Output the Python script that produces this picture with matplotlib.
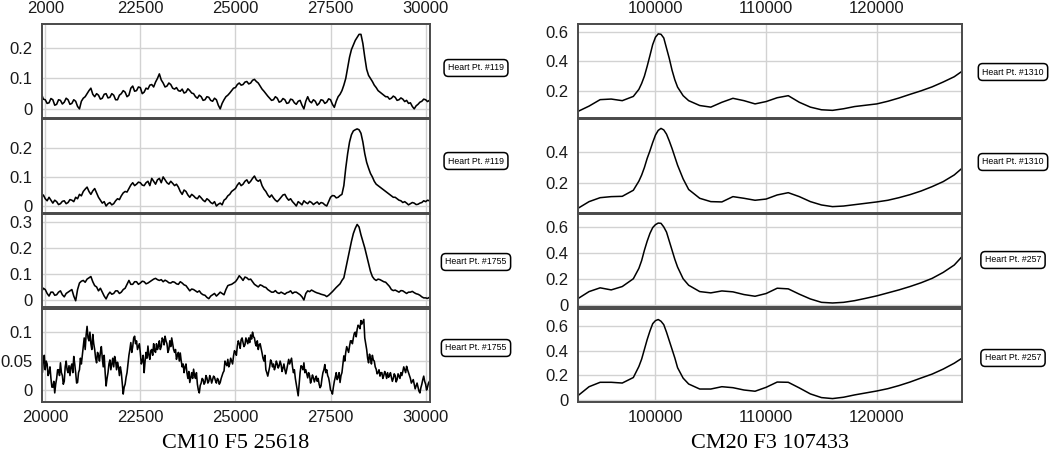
import numpy as np
import matplotlib
matplotlib.use("Agg")
import matplotlib.pyplot as plt

# ---------------- data ----------------
left_start = 19900
left_step = 50       # panels 1-3 sampling
left_step4 = 25      # panel 4 sampling

left_p1 = [0.05, 0.032, 0.03, 0.018, 0.02, 0.034, 0.03, 0.012, 0.015, 0.03,
           0.028, 0.016, 0.022, 0.035, 0.03, 0.015, 0.018, 0.03, 0.025, 0.008,
           0.0, 0.025, 0.035, 0.04, 0.05, 0.06, 0.068, 0.048, 0.04, 0.05,
           0.045, 0.032, 0.035, 0.048, 0.05, 0.036, 0.038, 0.05, 0.045, 0.03,
           0.03, 0.045, 0.05, 0.06, 0.055, 0.04, 0.045, 0.068, 0.075, 0.058,
           0.06, 0.072, 0.07, 0.05, 0.055, 0.068, 0.065, 0.078, 0.08, 0.072,
           0.088, 0.1, 0.115, 0.095, 0.085, 0.072, 0.075, 0.085, 0.08, 0.068,
           0.065, 0.07, 0.06, 0.058, 0.065, 0.052, 0.055, 0.066, 0.06, 0.052,
           0.05, 0.04, 0.035, 0.045, 0.04, 0.028, 0.03, 0.04, 0.038, 0.028,
           0.025, 0.035, 0.03, 0.012, 0.0, 0.018, 0.03, 0.04, 0.045, 0.052,
           0.06, 0.068, 0.07, 0.08, 0.085, 0.078, 0.08, 0.088, 0.09, 0.082,
           0.085, 0.094, 0.097, 0.09, 0.085, 0.075, 0.065, 0.058, 0.05, 0.042,
           0.035, 0.028, 0.03, 0.04, 0.035, 0.022, 0.025, 0.034, 0.03, 0.018,
           0.02, 0.032, 0.03, 0.02, 0.015, 0.025, 0.028, 0.012, 0.0, 0.025,
           0.04, 0.025, 0.02, 0.03, 0.025, 0.012, 0.018, 0.03, 0.028, 0.018,
           0.022, 0.033, 0.03, 0.015, 0.005, 0.025, 0.04, 0.048, 0.06, 0.078,
           0.1, 0.135, 0.17, 0.195, 0.21, 0.225, 0.235, 0.245, 0.245, 0.215,
           0.17, 0.13, 0.11, 0.1, 0.09, 0.078, 0.07, 0.06, 0.055, 0.05,
           0.045, 0.04, 0.04, 0.032, 0.035, 0.042, 0.038, 0.028, 0.03, 0.036,
           0.032, 0.024, 0.028, 0.018, 0.02, 0.008, 0.0, 0.01, 0.015, 0.022,
           0.025, 0.032, 0.03, 0.024, 0.028]

left_p2 = [0.03, 0.038, 0.025, 0.018, 0.03, 0.02, 0.01, 0.02, 0.015, 0.005,
           0.008, 0.016, 0.018, 0.008, 0.012, 0.022, 0.02, 0.015, 0.03, 0.025,
           0.04, 0.035, 0.05, 0.058, 0.065, 0.05, 0.04, 0.052, 0.06, 0.045,
           0.03, 0.02, 0.01, 0.015, 0.0, 0.008, 0.012, 0.004, 0.008, 0.018,
           0.025, 0.022, 0.035, 0.045, 0.05, 0.048, 0.06, 0.072, 0.08, 0.07,
           0.075, 0.082, 0.08, 0.072, 0.07, 0.08, 0.085, 0.07, 0.095, 0.085,
           0.075, 0.09, 0.095, 0.08, 0.1, 0.09, 0.08, 0.075, 0.085, 0.078,
           0.07, 0.075, 0.065, 0.05, 0.04, 0.055, 0.05, 0.038, 0.03, 0.04,
           0.035, 0.028, 0.025, 0.035, 0.028, 0.02, 0.015, 0.025, 0.02, 0.012,
           0.008, 0.015, 0.0, 0.006, 0.01, 0.004, 0.02, 0.025, 0.035, 0.04,
           0.05, 0.055, 0.06, 0.072, 0.08, 0.07, 0.075, 0.085, 0.09, 0.078,
           0.085, 0.095, 0.103, 0.09, 0.085, 0.09, 0.07, 0.058, 0.05, 0.038,
           0.03, 0.038, 0.028, 0.02, 0.015, 0.022, 0.03, 0.038, 0.04, 0.028,
           0.02, 0.025, 0.015, 0.008, 0.0, 0.015, 0.01, 0.004, 0.018, 0.012,
           0.008, 0.016, 0.012, 0.005, 0.01, 0.014, 0.006, 0.012, 0.01, 0.004,
           0.0, 0.015, 0.03, 0.036, 0.035, 0.028, 0.03, 0.036, 0.04, 0.07,
           0.13, 0.18, 0.22, 0.245, 0.258, 0.262, 0.265, 0.262, 0.25, 0.22,
           0.18, 0.15, 0.13, 0.112, 0.1, 0.085, 0.075, 0.07, 0.065, 0.06,
           0.055, 0.05, 0.045, 0.04, 0.035, 0.03, 0.03, 0.025, 0.02, 0.018,
           0.012, 0.015, 0.01, 0.004, 0.008, 0.012, 0.01, 0.005, 0.006, 0.01,
           0.012, 0.018, 0.015, 0.02, 0.018]

left_p3 = [0.03, 0.045, 0.04, 0.025, 0.015, 0.03, 0.03, 0.018, 0.02, 0.03,
           0.035, 0.02, 0.012, 0.025, 0.03, 0.035, 0.04, 0.015, -0.003, 0.04,
           0.065, 0.072, 0.075, 0.068, 0.08, 0.085, 0.09, 0.07, 0.055, 0.05,
           0.035, 0.045, 0.03, 0.015, 0.004, 0.02, 0.03, 0.022, 0.025, 0.035,
           0.035, 0.025, 0.03, 0.04, 0.045, 0.06, 0.075, 0.06, 0.06, 0.07,
           0.07, 0.06, 0.065, 0.072, 0.07, 0.062, 0.065, 0.07, 0.075, 0.08,
           0.083, 0.078, 0.075, 0.078, 0.07, 0.076, 0.072, 0.066, 0.065, 0.07,
           0.068, 0.062, 0.06, 0.07, 0.065, 0.058, 0.055, 0.045, 0.035, 0.042,
           0.04, 0.035, 0.03, 0.035, 0.025, 0.02, 0.018, 0.01, 0.005, 0.015,
           0.02, 0.025, 0.015, 0.022, 0.03, 0.025, 0.02, 0.04, 0.055, 0.058,
           0.06, 0.065, 0.07, 0.08, 0.093, 0.085, 0.075, 0.088, 0.085, 0.078,
           0.08, 0.07, 0.06, 0.055, 0.05, 0.058, 0.055, 0.05, 0.048, 0.04,
           0.035, 0.03, 0.03, 0.036, 0.028, 0.025, 0.03, 0.026, 0.022, 0.028,
           0.03, 0.035, 0.025, 0.03, 0.03, 0.025, 0.02, 0.012, 0.0, 0.025,
           0.035, 0.032, 0.038, 0.034, 0.03, 0.027, 0.025, 0.022, 0.02, 0.018,
           0.013, 0.018, 0.025, 0.032, 0.04, 0.048, 0.055, 0.062, 0.075, 0.085,
           0.12, 0.155, 0.19, 0.225, 0.255, 0.275, 0.29, 0.28, 0.25, 0.225,
           0.2, 0.17, 0.14, 0.11, 0.09, 0.08, 0.075, 0.08, 0.078, 0.074,
           0.07, 0.068, 0.06, 0.052, 0.04, 0.036, 0.038, 0.034, 0.03, 0.036,
           0.035, 0.03, 0.025, 0.03, 0.03, 0.033, 0.028, 0.024, 0.022, 0.018,
           0.012, 0.008, 0.008, 0.006, 0.01]

left_p4 = [0.045, 0.03, 0.05, 0.06, 0.035, 0.05, 0.045, 0.025, 0.03, 0.04,
           0.02, 0.005, 0.005, 0.015, -0.005, 0.01, 0.02, 0.035, 0.035, 0.025,
           0.047, 0.03, 0.025, 0.01, 0.015, 0.04, 0.05, 0.035, 0.03, 0.042,
           0.025, 0.04, 0.045, 0.03, 0.058, 0.045, 0.03, 0.012, 0.013, 0.03,
           0.035, 0.055, 0.045, 0.06, 0.076, 0.09, 0.07, 0.095, 0.11, 0.09,
           0.085, 0.1, 0.08, 0.07, 0.096, 0.08, 0.07, 0.055, 0.047, 0.065,
           0.06, 0.05, 0.065, 0.075, 0.055, 0.04, 0.06, 0.03, 0.007, 0.02,
           0.03, 0.045, 0.052, 0.035, 0.045, 0.055, 0.04, 0.058, 0.05, 0.035,
           0.048, 0.04, 0.025, 0.04, 0.03, 0.012, -0.007, 0.005, 0.01, 0.022,
           0.03, 0.045, 0.06, 0.07, 0.082, 0.065, 0.075, 0.09, 0.093, 0.08,
           0.085, 0.07, 0.075, 0.08, 0.064, 0.045, 0.05, 0.06, 0.03, 0.05,
           0.065, 0.055, 0.076, 0.06, 0.053, 0.068, 0.07, 0.06, 0.08, 0.068,
           0.065, 0.08, 0.07, 0.075, 0.085, 0.07, 0.075, 0.09, 0.087, 0.078,
           0.093, 0.085, 0.08, 0.065, 0.07, 0.085, 0.075, 0.09, 0.08, 0.07,
           0.065, 0.07, 0.053, 0.06, 0.065, 0.05, 0.064, 0.05, 0.04, 0.045,
           0.03, 0.04, 0.045, 0.03, 0.02, 0.032, 0.013, 0.022, 0.03, 0.02,
           0.036, 0.025, 0.02, 0.03, 0.01, 0.0, -0.005, 0.008, 0.012, 0.02,
           0.018, 0.01, 0.013, 0.025, 0.021, 0.012, 0.015, 0.025, 0.02, 0.012,
           0.018, 0.024, 0.022, 0.016, 0.012, 0.02, 0.018, 0.01, 0.013, 0.02,
           0.025, 0.03, 0.033, 0.05, 0.045, 0.042, 0.053, 0.04, 0.045, 0.055,
           0.05, 0.045, 0.059, 0.068, 0.065, 0.06, 0.076, 0.085, 0.08, 0.072,
           0.087, 0.09, 0.082, 0.075, 0.078, 0.09, 0.085, 0.08, 0.09, 0.082,
           0.095, 0.088, 0.1, 0.092, 0.09, 0.08, 0.076, 0.085, 0.07, 0.078,
           0.08, 0.072, 0.064, 0.055, 0.05, 0.06, 0.035, 0.03, 0.024, 0.032,
           0.04, 0.052, 0.048, 0.04, 0.045, 0.035, 0.04, 0.05, 0.045, 0.038,
           0.042, 0.05, 0.044, 0.032, 0.038, 0.045, 0.035, 0.028, 0.036, 0.045,
           0.053, 0.045, 0.05, 0.055, 0.04, 0.03, 0.035, 0.02, 0.01, 0.0,
           -0.01, 0.01, 0.03, 0.042, 0.04, 0.035, 0.047, 0.03, 0.035, 0.028,
           0.021, 0.03, 0.025, 0.012, 0.018, 0.026, 0.021, 0.014, 0.02, 0.024,
           0.015, 0.02, 0.01, 0.004, 0.007, 0.02, 0.03, 0.035, 0.044, 0.03,
           0.035, 0.025, 0.021, 0.012, 0.0, -0.002, -0.007, 0.005, 0.015, 0.022,
           0.03, 0.018, 0.022, 0.03, 0.013, 0.025, 0.03, 0.045, 0.059, 0.05,
           0.065, 0.075, 0.07, 0.065, 0.076, 0.085, 0.085, 0.08, 0.09, 0.098,
           0.1, 0.092, 0.105, 0.112, 0.11, 0.106, 0.12, 0.114, 0.118, 0.122,
           0.09, 0.08, 0.07, 0.055, 0.047, 0.062, 0.055, 0.045, 0.06, 0.052,
           0.05, 0.04, 0.036, 0.028, 0.03, 0.035, 0.024, 0.03, 0.03, 0.02,
           0.025, 0.032, 0.028, 0.02, 0.03, 0.022, 0.025, 0.03, 0.022, 0.015,
           0.02, 0.028, 0.025, 0.014, 0.018, 0.028, 0.024, 0.02, 0.03, 0.025,
           0.032, 0.04, 0.035, 0.03, 0.041, 0.035, 0.03, 0.025, 0.02, 0.012,
           0.015, 0.018, 0.01, 0.002, 0.007, 0.012, 0.005, -0.002, -0.005, 0.004,
           0.01, 0.018, 0.024, 0.015, 0.01, 0.0, 0.005, 0.012, 0.015]

right_x = [93000, 94000, 95000, 96000, 97000, 98000, 98500, 98750, 99000,
           99250, 99500, 99750, 100000, 100250, 100500, 100750, 101000,
           101250, 101500, 101750, 102000, 102500, 103000, 104000, 105000,
           106000, 107000, 108000, 109000, 110000, 111000, 112000, 113000,
           114000, 115000, 116000, 117000, 118000, 119000, 120000, 121000,
           122000, 123000, 124000, 125000, 126000, 127000, 127700]

right_p1 = [0.06, 0.096, 0.14, 0.144, 0.133, 0.162, 0.21, 0.25, 0.30,
            0.367, 0.44, 0.515, 0.565, 0.588, 0.585, 0.56, 0.49,
            0.42, 0.34, 0.275, 0.225, 0.167, 0.133, 0.10, 0.089,
            0.122, 0.149, 0.133, 0.111, 0.127, 0.153, 0.167, 0.122,
            0.089, 0.071, 0.067, 0.078, 0.093, 0.102, 0.111, 0.129,
            0.151, 0.176, 0.20, 0.227, 0.26, 0.296, 0.333]
right_p2 = [0.031, 0.075, 0.101, 0.108, 0.11, 0.15, 0.21, 0.25, 0.30,
            0.36, 0.41, 0.465, 0.514, 0.545, 0.558, 0.548, 0.52,
            0.475, 0.425, 0.37, 0.315, 0.225, 0.155, 0.097, 0.075,
            0.073, 0.108, 0.097, 0.084, 0.092, 0.119, 0.134, 0.108,
            0.075, 0.053, 0.042, 0.046, 0.055, 0.064, 0.073, 0.084,
            0.101, 0.121, 0.145, 0.174, 0.207, 0.251, 0.295]
right_p3 = [0.047, 0.101, 0.13, 0.114, 0.14, 0.20, 0.28, 0.34, 0.42,
            0.49, 0.55, 0.595, 0.618, 0.63, 0.628, 0.60, 0.56,
            0.49, 0.42, 0.35, 0.29, 0.20, 0.15, 0.101, 0.091,
            0.106, 0.099, 0.078, 0.065, 0.086, 0.127, 0.122, 0.081,
            0.044, 0.018, 0.013, 0.018, 0.031, 0.049, 0.068, 0.091,
            0.114, 0.14, 0.169, 0.203, 0.249, 0.306, 0.371]
right_p4 = [0.032, 0.105, 0.141, 0.141, 0.135, 0.18, 0.27, 0.33, 0.41,
            0.49, 0.56, 0.62, 0.645, 0.654, 0.64, 0.612, 0.55,
            0.48, 0.41, 0.34, 0.26, 0.175, 0.127, 0.086, 0.086,
            0.105, 0.097, 0.078, 0.068, 0.10, 0.143, 0.141, 0.095,
            0.046, 0.016, 0.008, 0.019, 0.038, 0.054, 0.07, 0.089,
            0.114, 0.143, 0.176, 0.208, 0.249, 0.297, 0.338]

left_labels = ["Heart Pt. #119", "Heart Pt. #119", "Heart Pt. #1755", "Heart Pt. #1755"]
right_labels = ["Heart Pt. #1310", "Heart Pt. #1310", "Heart Pt. #257", "Heart Pt. #257"]

left_xticks = [20000, 22500, 25000, 27500, 30000]
left_xtick_top = ["2000", "22500", "25000", "27500", "30000"]
left_xtick_bottom = ["20000", "22500", "25000", "27500", "30000"]
right_xticks = [100000, 110000, 120000]
right_xtick_labels = ["100000", "110000", "120000"]

left_yticks = [[0, 0.1, 0.2], [0, 0.1, 0.2], [0, 0.1, 0.2, 0.3], [0, 0.05, 0.1]]
left_yticklabels = [["0", "0.1", "0.2"], ["0", "0.1", "0.2"],
                    ["0", "0.1", "0.2", "0.3"], ["0", "0.05", "0.1"]]
right_yticks = [[0.2, 0.4, 0.6], [0.2, 0.4], [0, 0.2, 0.4, 0.6], [0, 0.2, 0.4, 0.6]]
right_yticklabels = [["0.2", "0.4", "0.6"], ["0.2", "0.4"],
                     ["0", "0.2", "0.4", "0.6"], ["0", "0.2", "0.4", "0.6"]]

titles = ["CM10 F5 25618", "CM20 F3 107433"]

# ---------------- layout ----------------
W, H = 1050, 457
fig = plt.figure(figsize=(W / 100, H / 100), dpi=100)
plt.rcParams["font.family"] = ["Liberation Sans", "DejaVu Sans"]

rows_px = [(24, 118), (119, 213), (214, 307), (309, 402)]
left_px = (42, 430)
right_px = (578, 962)
left_ylims = [(-0.03, 0.279), (-0.024, 0.299), (-0.027, 0.33), (-0.0207, 0.14)]
right_ylims = [(0.015, 0.655), (0.0, 0.62), (-0.018, 0.70), (-0.02, 0.74)]
left_xlim = (19915, 30115)
right_xlim = (93000, 127700)
left_box_y = [68, 161, 262, 348]
right_box_y = [72, 162, 260, 358]

frame_col = "#4a4a4a"
grid_col = "#d2d2d2"
tick_fs = 12


def make_ax(xpx, rpx):
    l = xpx[0] / W
    w = (xpx[1] - xpx[0]) / W
    b = 1 - rpx[1] / H
    h = (rpx[1] - rpx[0]) / H
    return fig.add_axes([l, b, w, h])


def style(ax, xlim, ylim, xticks, yticks, ylabels):
    ax.set_xlim(*xlim)
    ax.set_ylim(*ylim)
    ax.set_xticks(xticks)
    ax.set_yticks(yticks)
    ax.set_yticklabels(ylabels)
    ax.grid(True, color=grid_col, linewidth=1.0)
    ax.set_axisbelow(True)
    for s in ax.spines.values():
        s.set_color(frame_col)
        s.set_linewidth(1.4)
    ax.tick_params(axis="both", length=0, labelsize=tick_fs, colors="#1a1a1a")
    ax.tick_params(axis="y", pad=7)
    ax.tick_params(axis="x", pad=6)


left_series = [left_p1, left_p2, left_p3, left_p4]
right_series = [right_p1, right_p2, right_p3, right_p4]

for i in range(4):
    # left column
    ax = make_ax(left_px, rows_px[i])
    step = left_step4 if i == 3 else left_step
    xs = left_start + step * np.arange(len(left_series[i]))
    ax.plot(xs, left_series[i], color="black", linewidth=1.15)
    style(ax, left_xlim, left_ylims[i], left_xticks, left_yticks[i], left_yticklabels[i])
    if i == 0:
        ax.xaxis.tick_top()
        ax.set_xticklabels(left_xtick_top)
    elif i == 3:
        ax.set_xticklabels(left_xtick_bottom)
    else:
        ax.tick_params(axis="x", labelbottom=False)

    # right column
    ax2 = make_ax(right_px, rows_px[i])
    ax2.plot(right_x, right_series[i], color="black", linewidth=1.1)
    style(ax2, right_xlim, right_ylims[i], right_xticks, right_yticks[i], right_yticklabels[i])
    if i == 0:
        ax2.xaxis.tick_top()
        ax2.set_xticklabels(right_xtick_labels)
    elif i == 3:
        ax2.set_xticklabels(right_xtick_labels)
    else:
        ax2.tick_params(axis="x", labelbottom=False)

    bbox = dict(boxstyle="round,pad=0.45,rounding_size=0.5", facecolor="white",
                edgecolor="black", linewidth=1.1)
    fig.text(476 / W, 1 - left_box_y[i] / H, left_labels[i], fontsize=6.3,
             ha="center", va="center", bbox=bbox)
    fig.text(1013 / W, 1 - right_box_y[i] / H, right_labels[i], fontsize=6.3,
             ha="center", va="center", bbox=bbox)

fig.text(236 / W, 1 - 443 / H, titles[0], family="Liberation Serif", fontsize=16,
         ha="center", va="center")
fig.text(770 / W, 1 - 443 / H, titles[1], family="Liberation Serif", fontsize=16,
         ha="center", va="center")

fig.savefig("out.png", dpi=100)
